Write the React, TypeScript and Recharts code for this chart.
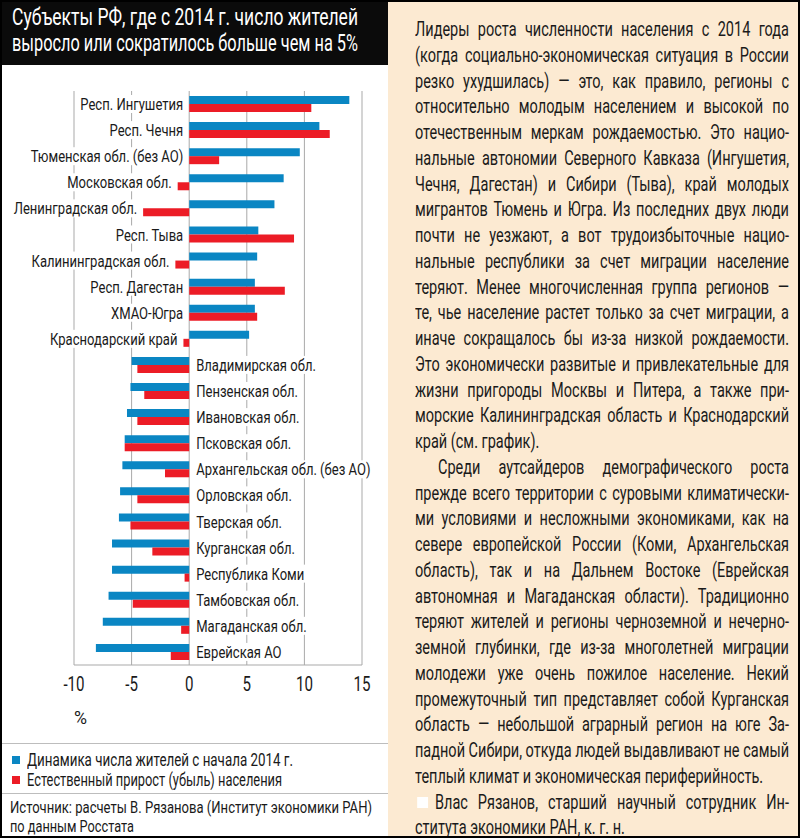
import React from 'react';
import { BarChart, Bar, XAxis, YAxis, CartesianGrid, LabelList } from 'recharts';

const regions = [
  'Респ. Ингушетия',
  'Респ. Чечня',
  'Тюменская обл. (без АО)',
  'Московская обл.',
  'Ленинградская обл.',
  'Респ. Тыва',
  'Калининградская обл.',
  'Респ. Дагестан',
  'ХМАО-Югра',
  'Краснодарский край',
  'Владимирская обл.',
  'Пензенская обл.',
  'Ивановская обл.',
  'Псковская обл.',
  'Архангельская обл. (без АО)',
  'Орловская обл.',
  'Тверская обл.',
  'Курганская обл.',
  'Республика Коми',
  'Тамбовская обл.',
  'Магаданская обл.',
  'Еврейская АО',
];

// динамика числа жителей с начала 2014 г., %
const populationChange = [
  13.9, 11.3, 9.6, 8.2, 7.4, 6.0, 5.9, 5.7, 5.7, 5.2,
  -5.0, -5.1, -5.4, -5.6, -5.8, -6.0, -6.1, -6.7, -6.7, -7.0, -7.5, -8.1,
];

// естественный прирост (убыль), %
const naturalGrowth = [
  10.6, 12.2, 2.6, -1.0, -4.0, 9.1, -1.2, 8.3, 5.9, -0.5,
  -4.5, -3.9, -4.5, -5.6, -2.1, -4.5, -5.1, -3.2, -0.4, -4.9, -0.7, -1.6,
];

const xTicks = [-10, -5, 0, 5, 10, 15];

const titleLines = [
  'Субъекты РФ, где с 2014 г. число жителей',
  'выросло или сократилось больше чем на 5%',
];

const legendItems = [
  'Динамика числа жителей с начала 2014 г.',
  'Естественный прирост (убыль) населения',
];

const sourceLines = [
  'Источник: расчеты В. Рязанова (Институт экономики РАН)',
  'по данным Росстата',
];

const articleLines = [
  'Лидеры роста численности населения с 2014 года',
  '(когда социально-экономическая ситуация в России',
  'резко ухудшилась) — это, как правило, регионы с',
  'относительно молодым населением и высокой по',
  'отечественным меркам рождаемостью. Это нацио-',
  'нальные автономии Северного Кавказа (Ингушетия,',
  'Чечня, Дагестан) и Сибири (Тыва), край молодых',
  'мигрантов Тюмень и Югра. Из последних двух люди',
  'почти не уезжают, а вот трудоизбыточные нацио-',
  'нальные республики за счет миграции население',
  'теряют. Менее многочисленная группа регионов —',
  'те, чье население растет только за счет миграции, а',
  'иначе сокращалось бы из-за низкой рождаемости.',
  'Это экономически развитые и привлекательные для',
  'жизни пригороды Москвы и Питера, а также при-',
  'морские Калининградская область и Краснодарский',
  'край (см. график).',
  'Среди аутсайдеров демографического роста',
  'прежде всего территории с суровыми климатически-',
  'ми условиями и несложными экономиками, как на',
  'севере европейской России (Коми, Архангельская',
  'область), так и на Дальнем Востоке (Еврейская',
  'автономная и Магаданская области). Традиционно',
  'теряют жителей и регионы черноземной и нечерно-',
  'земной глубинки, где из-за многолетней миграции',
  'молодежи уже очень пожилое население. Некий',
  'промежуточный тип представляет собой Курганская',
  'область — небольшой аграрный регион на юге За-',
  'падной Сибири, откуда людей выдавливают не самый',
  'теплый климат и экономическая периферийность.',
  'Влас Рязанов, старший научный сотрудник Ин-',
  'ститута экономики РАН, к. г. н.',
];
const paragraphEnds = [16, 29, 31];
const indentLine = 17;
const signatureLine = 30;

const FONT = 'Roboto, "DejaVu Sans", sans-serif';
const BLUE = '#0a86c3';
const RED = '#ec1c26';
const GRID = '#a9a9a9';
const INK = '#1a1a1a';
const LABEL_SIZE = 17;
const TICK_SIZE = 19.5;
const ARTICLE_SIZE = 20;
const ARTICLE_WIDTH = 374;

let measureCtx: CanvasRenderingContext2D | null = null;
function textWidth(t: string, size: number) {
  if (!measureCtx) measureCtx = document.createElement('canvas').getContext('2d');
  if (!measureCtx) return t.length * size * 0.5;
  measureCtx.font = `${size}px ${FONT}`;
  return measureCtx.measureText(t).width;
}

// horizontal squeeze so that the text matches the condensed face of the original
function squeeze(t: string, size: number, target: number) {
  return target / textWidth(t, size);
}

function Squeezed({ text, size, target, style }: { text: string; size: number; target: number; style?: React.CSSProperties }) {
  const s = squeeze(text, size, target);
  return (
    <div
      style={{
        fontSize: size,
        whiteSpace: 'nowrap',
        transform: `scaleX(${s})`,
        transformOrigin: 'left center',
        ...style,
      }}
    >
      {text}
    </div>
  );
}

function labelScale() {
  return squeeze('Респ. Ингушетия', LABEL_SIZE, 103);
}

function RegionLabel(props: any) {
  const index = props.index;
  const vb = props.viewBox && props.viewBox.x != null ? props.viewBox : props;
  const x = Number(vb.x);
  const y = Number(vb.y);
  const w = Number(vb.width);
  const left = Math.min(x, x + w);
  const right = Math.max(x, x + w);
  const red = naturalGrowth[index];
  const blue = populationChange[index];
  const zero = red < 0 ? right : left;
  const text = regions[index];
  const s = labelScale();
  const tw = textWidth(text, LABEL_SIZE) * s;
  let tx: number;
  let anchor: 'start' | 'end';
  if (blue >= 0) {
    tx = left - 6;
    anchor = 'end';
  } else {
    tx = zero + 7;
    anchor = 'start';
  }
  const rx = anchor === 'end' ? tx - tw - 2 : tx - 2;
  return (
    <g>
      <rect x={rx} y={y - 9} width={tw + 4} height={18} fill="#fff" />
      <text
        x={0}
        y={0}
        transform={`translate(${tx},${y}) scale(${s},1)`}
        dy="0.36em"
        textAnchor={anchor}
        fontFamily={FONT}
        fontSize={LABEL_SIZE}
        fill={INK}
      >
        {text}
      </text>
    </g>
  );
}

function PercentTick(props: any) {
  const { x, y, payload } = props;
  const s = squeeze('15', TICK_SIZE, 17);
  return (
    <text
      x={0}
      y={0}
      transform={`translate(${x},${y}) scale(${s},1)`}
      dy="0.71em"
      textAnchor="middle"
      fontFamily={FONT}
      fontSize={TICK_SIZE}
      fill={INK}
    >
      {payload.value}
    </text>
  );
}

export default function App() {
  const data = regions.map((name, i) => ({
    name,
    pop: populationChange[i],
    natural: naturalGrowth[i],
  }));

  const articleScale = Math.min(
    ...articleLines.map((t, i) => {
      const indent = i === indentLine ? 23 : i === signatureLine ? 20 : 0;
      return (ARTICLE_WIDTH - indent) / textWidth(t, ARTICLE_SIZE);
    }),
  );

  return (
    <div
      style={{
        position: 'absolute',
        left: 0,
        top: 0,
        width: 800,
        height: 838,
        boxSizing: 'border-box',
        border: '2px solid #000',
        background: '#fff',
        fontFamily: FONT,
        color: INK,
        overflow: 'hidden',
      }}
    >
      {/* left panel: chart */}
      <div style={{ position: 'absolute', left: -2, top: 62, width: 388, height: 680 }}>
        <BarChart
          layout="vertical"
          width={388}
          height={680}
          data={data}
          margin={{ top: 27, right: 26, bottom: 49, left: 74 }}
          barGap={0}
          barSize={8}
        >
          <CartesianGrid horizontal={false} stroke={GRID} />
          <XAxis
            type="number"
            domain={[-10, 15]}
            ticks={xTicks}
            interval={0}
            allowDataOverflow
            height={30}
            axisLine={{ stroke: GRID }}
            tickLine={false}
            tickMargin={6}
            tick={<PercentTick />}
          />
          <XAxis
            xAxisId="top"
            orientation="top"
            type="number"
            domain={[-10, 15]}
            ticks={xTicks}
            height={0}
            tick={false}
            tickLine={false}
            axisLine={{ stroke: GRID }}
          />
          <YAxis type="category" dataKey="name" hide width={0} />
          <Bar dataKey="pop" fill={BLUE} isAnimationActive={false} />
          <Bar dataKey="natural" fill={RED} isAnimationActive={false}>
            <LabelList dataKey="name" content={RegionLabel} />
          </Bar>
        </BarChart>
      </div>

      {/* title bar */}
      <div
        style={{
          position: 'absolute',
          left: -2,
          top: -2,
          width: 388,
          height: 65,
          background: '#0b0b0b',
          color: '#fff',
          lineHeight: '26px',
          padding: '5px 0 0 12px',
          boxSizing: 'border-box',
        }}
      >
        <Squeezed text={titleLines[0]} size={23} target={346} />
        <Squeezed text={titleLines[1]} size={23} target={346} />
      </div>

      <div style={{ position: 'absolute', left: 72, top: 704, lineHeight: '24px' }}>
        <Squeezed text="%" size={19} target={13} />
      </div>

      {/* legend */}
      <div style={{ position: 'absolute', left: 0, top: 741, width: 386, borderTop: '1px solid #bdbdbd' }} />
      {legendItems.map((t, i) => (
        <div key={t} style={{ position: 'absolute', left: 10, top: 748 + i * 20, height: 20, lineHeight: '20px' }}>
          <span
            style={{
              position: 'absolute',
              left: 0,
              top: 6,
              width: 8,
              height: 8,
              background: i === 0 ? BLUE : RED,
            }}
          />
          <div style={{ position: 'absolute', left: 15, top: 0 }}>
            <Squeezed text={t} size={17.5} target={i === 0 ? 266 : 255} />
          </div>
        </div>
      ))}
      <div style={{ position: 'absolute', left: 0, top: 791, width: 386, borderTop: '1px solid #bdbdbd' }} />

      {/* source */}
      {sourceLines.map((t, i) => (
        <div key={t} style={{ position: 'absolute', left: 8, top: 796 + i * 19, lineHeight: '19px' }}>
          <Squeezed text={t} size={17} target={i === 0 ? 362 : 124} />
        </div>
      ))}

      {/* right panel: article */}
      <div
        style={{
          position: 'absolute',
          left: 386,
          top: -2,
          width: 412,
          height: 838,
          background: '#fcead2',
          borderTop: '2px solid #000',
          boxSizing: 'border-box',
        }}
      >
        <div
          style={{
            position: 'absolute',
            left: 27,
            top: 15,
            width: ARTICLE_WIDTH / articleScale,
            fontSize: ARTICLE_SIZE,
            lineHeight: '25.75px',
            transform: `scaleX(${articleScale})`,
            transformOrigin: 'left top',
          }}
        >
          {articleLines.map((t, i) => {
            const last = paragraphEnds.includes(i);
            return (
              <div
                key={i}
                style={{
                  textAlign: last ? 'left' : 'justify',
                  textAlignLast: last ? 'left' : 'justify',
                  whiteSpace: 'nowrap',
                  paddingLeft: (i === indentLine ? 23 : i === signatureLine ? 20 : 0) / articleScale,
                  position: 'relative',
                }}
              >
                {i === signatureLine && (
                  <span
                    style={{
                      position: 'absolute',
                      left: 2 / articleScale,
                      top: 7,
                      width: 11 / articleScale,
                      height: 11,
                      background: '#fff',
                    }}
                  />
                )}
                {t}
              </div>
            );
          })}
        </div>
      </div>
    </div>
  );
}
